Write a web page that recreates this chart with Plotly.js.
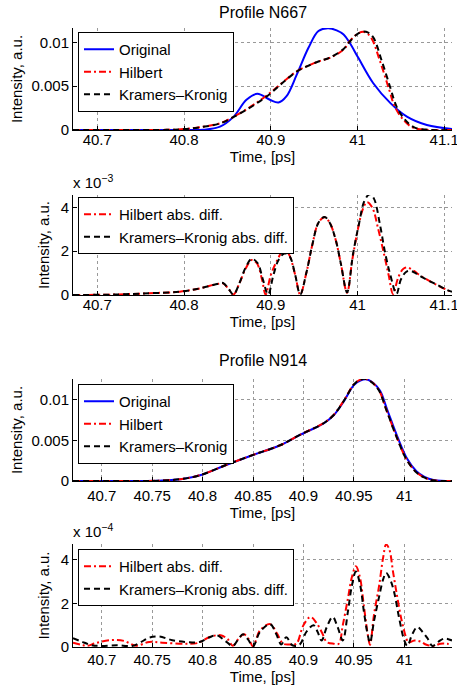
<!DOCTYPE html>
<html>
<head>
<meta charset="utf-8">
<script src="https://cdn.plot.ly/plotly-3.0.1.min.js"></script>
<style>html,body{margin:0;padding:0;background:#fff;}#chart{width:457px;height:687px;}</style>
</head>
<body>
<div id="chart"></div>
<script>
// ---------- Profile N667 : intensity ----------
const t667Orig = [40.672,40.80,40.822,40.8415,40.857,40.872,40.8845,40.899,40.909,40.918,40.930,40.9435,40.955,40.966,40.976,40.984,40.991,41.001,41.018,41.038,41.057,41.080,41.109];
const v667Orig = [0,0,0.00002,0.00038,0.00150,0.00345,0.00414,0.00345,0.00314,0.00383,0.00632,0.00939,0.01130,0.01163,0.01138,0.01090,0.00996,0.00824,0.00537,0.00307,0.00153,0.00057,0.00010];
const t667Hil = [40.672,40.78,40.80,40.822,40.8415,40.861,40.880,40.899,40.915,40.930,40.946,40.957,40.968,40.984,40.991,41.001,41.008,41.016,41.026,41.036,41.043,41.053,41.064,41.080,41.109];
const v667Hil = [0,0.00002,0.0001,0.00038,0.00077,0.00172,0.00287,0.00422,0.00555,0.00670,0.00747,0.00790,0.00824,0.00920,0.01015,0.01105,0.01120,0.01050,0.00785,0.00479,0.00268,0.00115,0.00027,0.00002,0];
const t667KK = [40.672,40.78,40.80,40.822,40.8415,40.861,40.880,40.899,40.915,40.930,40.946,40.957,40.968,40.984,40.992,41.002,41.010,41.018,41.028,41.038,41.045,41.055,41.066,41.082,41.109];
const v667KK = [0,0.00002,0.0001,0.00036,0.00075,0.00170,0.00280,0.00412,0.00550,0.00668,0.00745,0.00790,0.00826,0.00925,0.01020,0.01110,0.01122,0.01060,0.00790,0.00480,0.00270,0.00115,0.00027,0.00002,0];

// ---------- Profile N667 : abs. differences (x 1e-3) ----------
const t667DH = [40.672,40.720,40.760,40.795,40.818,40.838,40.845,40.851,40.857,40.864,40.871,40.878,40.884,40.890,40.894,40.900,40.907,40.915,40.921,40.928,40.934,40.941,40.948,40.955,40.962,40.968,40.975,40.981,40.988,40.994,41.000,41.006,41.011,41.017,41.024,41.031,41.036,41.041,41.047,41.053,41.058,41.065,41.072,41.088,41.105,41.109];
const v667DH = [0,0.02,0.08,0.15,0.30,0.50,0.53,0.30,0.02,0.55,1.20,1.60,1.45,0.70,0.02,0.90,1.55,2.05,1.85,0.95,0.02,1.00,2.30,3.30,3.55,3.30,2.50,1.40,0.10,1.60,2.90,3.90,4.24,4.00,3.00,1.80,0.90,0.05,0.80,1.20,1.25,1.10,0.90,0.53,0.20,0.15];
const t667DK = [40.672,40.720,40.760,40.795,40.818,40.838,40.845,40.851,40.857,40.864,40.871,40.878,40.885,40.891,40.897,40.903,40.909,40.916,40.922,40.928,40.934,40.941,40.948,40.955,40.962,40.968,40.975,40.981,40.988,40.995,41.002,41.008,41.014,41.019,41.026,41.032,41.038,41.045,41.050,41.056,41.061,41.067,41.075,41.090,41.105,41.109];
const v667DK = [0,0.02,0.08,0.15,0.30,0.50,0.55,0.30,0.02,0.55,1.25,1.65,1.45,0.70,0.02,0.90,1.60,1.90,1.75,0.95,0.02,1.00,2.30,3.30,3.56,3.30,2.50,1.40,0.12,1.90,3.30,4.30,4.60,4.40,3.20,1.90,0.90,0.05,0.70,1.05,1.10,1.00,0.80,0.50,0.20,0.15];

// ---------- Profile N914 : intensity ----------
const t914Orig = [40.6715,40.740,40.760,40.780,40.7975,40.824,40.850,40.877,40.897,40.920,40.930,40.940,40.950,40.957,40.963,40.969,40.976,40.983,40.993,41.003,41.012,41.020,41.029,41.0473];
const v914Orig = [0,0,0.00005,0.00025,0.00070,0.00200,0.00320,0.00440,0.00570,0.00710,0.00810,0.00980,0.01180,0.01240,0.01250,0.01210,0.01110,0.00880,0.00550,0.00270,0.00120,0.00050,0.00012,0];
const t914Hil = [40.6715,40.740,40.760,40.780,40.7975,40.824,40.850,40.877,40.897,40.920,40.930,40.940,40.950,40.956,40.962,40.968,40.975,40.982,40.992,41.002,41.011,41.019,41.028,41.0473];
const v914Hil = [0,0,0.00005,0.00025,0.00072,0.00200,0.00322,0.00440,0.00572,0.00712,0.00815,0.00990,0.01190,0.01245,0.01255,0.01215,0.01115,0.00885,0.00555,0.00270,0.00120,0.00048,0.00010,0];
const t914KK = [40.6715,40.740,40.760,40.780,40.7975,40.824,40.850,40.877,40.897,40.920,40.930,40.940,40.950,40.956,40.962,40.968,40.975,40.982,40.992,41.002,41.011,41.019,41.028,41.0473];
const v914KK = [0,0,0.00005,0.00026,0.00071,0.00201,0.00321,0.00441,0.00571,0.00711,0.00812,0.00985,0.01188,0.01247,0.01256,0.01212,0.01112,0.00882,0.00552,0.00268,0.00118,0.00047,0.00010,0];

// ---------- Profile N914 : abs. differences (x 1e-4) ----------
const t914DH = [40.6715,40.680,40.686,40.694,40.708,40.722,40.734,40.747,40.760,40.781,40.795,40.807,40.818,40.825,40.830,40.836,40.841,40.846,40.850,40.857,40.867,40.874,40.880,40.888,40.893,40.900,40.907,40.913,40.919,40.923,40.930,40.935,40.939,40.944,40.948,40.952,40.956,40.960,40.964,40.966,40.970,40.975,40.979,40.982,40.985,40.989,40.993,40.997,41.002,41.004,41.010,41.016,41.022,41.029,41.036,41.042,41.0473];
const v914DH = [0.20,0.10,0.06,0.18,0.31,0.28,0.06,0.23,0.20,0.15,0.18,0.46,0.54,0.35,0.06,0.40,0.58,0.35,0.03,0.77,1.05,0.60,0.15,0.12,0.15,1.00,1.38,1.10,0.60,0.23,0.15,0.15,1.00,2.20,3.20,3.70,3.20,1.85,0.50,0.10,1.50,2.80,4.10,4.70,4.50,3.40,2.30,1.30,0.40,0.20,0.30,0.25,0.10,0.05,0.15,0.15,0.12];
const t914DK = [40.6715,40.680,40.690,40.700,40.715,40.730,40.738,40.747,40.757,40.770,40.784,40.797,40.807,40.814,40.822,40.830,40.836,40.840,40.845,40.850,40.857,40.867,40.873,40.878,40.883,40.889,40.896,40.903,40.910,40.914,40.918,40.923,40.929,40.934,40.939,40.944,40.948,40.952,40.956,40.960,40.964,40.966,40.970,40.975,40.979,40.982,40.986,40.990,40.995,41.000,41.003,41.008,41.013,41.018,41.023,41.028,41.034,41.040,41.0473];
const v914DK = [0.40,0.25,0.08,0.05,0.08,0.05,0.20,0.43,0.48,0.31,0.23,0.23,0.45,0.54,0.30,0.05,0.40,0.58,0.35,0.03,0.70,1.05,0.60,0.12,0.45,0.08,0.10,0.70,1.00,0.70,0.30,0.90,1.38,0.90,0.30,1.60,2.80,3.46,2.90,1.60,0.50,0.20,1.20,2.30,3.10,3.40,3.10,2.50,1.30,0.30,0.05,0.60,0.92,0.70,0.40,0.05,0.25,0.39,0.30];

// ---------- labels ----------
const titles = ['Profile N667','Profile N914'];
const xTitle = 'Time, [ps]';
const yTitle = 'Intensity, a.u.';
const nameOrig = 'Original', nameHil = 'Hilbert', nameKK = 'Kramers\u2013Kronig';
const nameDH = 'Hilbert abs. diff.', nameDK = 'Kramers\u2013Kronig abs. diff.';
const xTicksA = [40.7,40.8,40.9,41,41.1];
const xTicksB = [40.7,40.75,40.8,40.85,40.9,40.95,41];
const yTicksInt = [0,0.005,0.01], yTickTextInt = ['0','0.005','0.01'];
const yTicksDiff = [0,2,4];

const W = 457, H = 687;
const FONT = 'Liberation Sans, Arial, Helvetica, sans-serif';
const BLUE = '#0000ff', RED = '#ff0000', BLACK = '#000000';
const HDASH = '7px,3px,2px,3px', KDASH = '6px,4px';
const px2x = p => p / W, py2y = p => 1 - p / H;

function lineTrace(x, y, name, color, dash, xa, ya, leg) {
  return {x: x, y: y, name: name, type: 'scatter', mode: 'lines',
          line: {color: color, width: 2, dash: dash, shape: 'spline', smoothing: 1},
          xaxis: xa, yaxis: ya, legend: leg};
}

const data = [
  lineTrace(t667Orig, v667Orig, nameOrig, BLUE, 'solid', 'x', 'y', 'legend'),
  lineTrace(t667Hil, v667Hil, nameHil, RED, HDASH, 'x', 'y', 'legend'),
  lineTrace(t667KK, v667KK, nameKK, BLACK, KDASH, 'x', 'y', 'legend'),
  lineTrace(t667DH, v667DH, nameDH, RED, HDASH, 'x2', 'y2', 'legend2'),
  lineTrace(t667DK, v667DK, nameDK, BLACK, KDASH, 'x2', 'y2', 'legend2'),
  lineTrace(t914Orig, v914Orig, nameOrig, BLUE, 'solid', 'x3', 'y3', 'legend3'),
  lineTrace(t914Hil, v914Hil, nameHil, RED, HDASH, 'x3', 'y3', 'legend3'),
  lineTrace(t914KK, v914KK, nameKK, BLACK, KDASH, 'x3', 'y3', 'legend3'),
  lineTrace(t914DH, v914DH, nameDH, RED, HDASH, 'x4', 'y4', 'legend4'),
  lineTrace(t914DK, v914DK, nameDK, BLACK, KDASH, 'x4', 'y4', 'legend4')
];

const xDom = [px2x(73), px2x(452)];
function xAxis(range, ticks, anchor, lblShift, standoff) {
  return {domain: xDom, range: range, tickvals: ticks, ticktext: ticks.map(String),
          anchor: anchor, showline: true, linecolor: '#000', linewidth: 1, mirror: false,
          ticks: 'inside', ticklen: 4, tickcolor: '#000', showgrid: true, gridcolor: '#999',
          griddash: 'dot', gridwidth: 1, zeroline: false, automargin: false,
          ticklabeloverflow: 'allow', ticklabelstandoff: lblShift,
          tickfont: {family: FONT, size: 15, color: '#000'},
          title: {text: xTitle, font: {family: FONT, size: 15, color: '#000'}, standoff: standoff}};
}
function yAxis(top, bottom, range, ticks, text, anchor, standoff) {
  return {domain: [py2y(bottom), py2y(top)], range: range, tickvals: ticks, ticktext: text,
          anchor: anchor, showline: true, linecolor: '#000', linewidth: 1, mirror: false,
          ticks: 'inside', ticklen: 4, tickcolor: '#000', showgrid: true, gridcolor: '#999',
          griddash: 'dot', gridwidth: 1, zeroline: false, automargin: false,
          ticklabeloverflow: 'allow',
          tickfont: {family: FONT, size: 15, color: '#000'},
          title: {text: yTitle, font: {family: FONT, size: 15, color: '#000'}, standoff: standoff}};
}
function legendAt(xp, yp) {
  return {x: px2x(xp), y: py2y(yp), xanchor: 'left', yanchor: 'top', bgcolor: '#fff',
          bordercolor: '#000', borderwidth: 1, itemwidth: 30, tracegroupgap: 0,
          font: {family: FONT, size: 15, color: '#000'}};
}

const layout = {
  width: W, height: H, margin: {l: 0, r: 0, t: 0, b: 0},
  paper_bgcolor: '#fff', plot_bgcolor: '#fff', showlegend: true,
  font: {family: FONT, color: '#000'},
  xaxis: xAxis([40.672, 41.109], xTicksA, 'y', -4, 0),
  yaxis: yAxis(28, 130, [0, 0.01165], yTicksInt, yTickTextInt, 'x', 5),
  xaxis2: xAxis([40.672, 41.109], xTicksA, 'y2', -4, 4),
  yaxis2: yAxis(195, 295, [0, 4.566], yTicksDiff, yTicksDiff.map(String), 'x2', 7),
  xaxis3: xAxis([40.6715, 41.0473], xTicksB, 'y3', 1, 0),
  yaxis3: yAxis(379, 481, [0, 0.01256], yTicksInt, yTickTextInt, 'x3', 5),
  xaxis4: xAxis([40.6715, 41.0473], xTicksB, 'y4', -1, 0),
  yaxis4: yAxis(544, 647, [0, 4.725], yTicksDiff, yTicksDiff.map(String), 'x4', 7),
  legend: legendAt(78, 32),
  legend2: legendAt(78, 197),
  legend3: legendAt(78, 384),
  legend4: legendAt(78, 549),
  annotations: [
    {text: titles[0], xref: 'paper', yref: 'paper', x: px2x(262.5), y: py2y(12), xanchor: 'center', yanchor: 'middle', showarrow: false, font: {family: FONT, size: 16, color: '#000'}},
    {text: titles[1], xref: 'paper', yref: 'paper', x: px2x(262.5), y: py2y(360), xanchor: 'center', yanchor: 'middle', showarrow: false, font: {family: FONT, size: 16, color: '#000'}},
    {text: 'x 10<sup>\u22123</sup>', xref: 'paper', yref: 'paper', x: px2x(71), y: py2y(193), xanchor: 'left', yanchor: 'bottom', showarrow: false, font: {family: FONT, size: 15, color: '#000'}},
    {text: 'x 10<sup>\u22124</sup>', xref: 'paper', yref: 'paper', x: px2x(71), y: py2y(542), xanchor: 'left', yanchor: 'bottom', showarrow: false, font: {family: FONT, size: 15, color: '#000'}}
  ]
};

Plotly.newPlot('chart', data, layout, {staticPlot: true, displayModeBar: false});
</script>
</body>
</html>
